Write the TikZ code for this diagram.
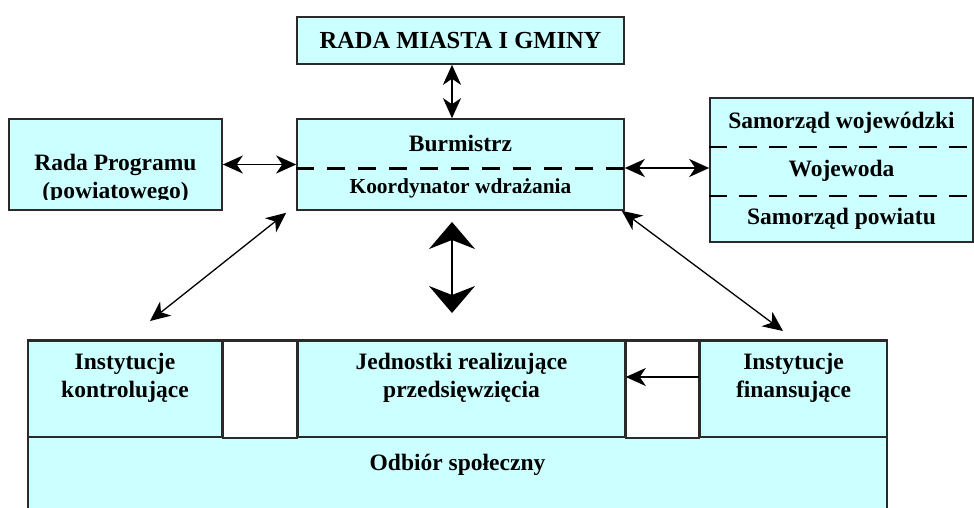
\documentclass[tikz,border=0pt]{standalone}
\usepackage{fontspec}
\setmainfont{Liberation Serif}
\usetikzlibrary{arrows.meta}
\definecolor{paleblue}{HTML}{CCFFFF}
\definecolor{edgegray}{HTML}{2A2A2A}
\tikzset{
  arrhead/.tip={Stealth[length=20pt,width=18pt,inset=6pt]},
  bighead/.tip={Stealth[length=27pt,width=46pt,inset=9pt]},
  box/.style={draw=edgegray, line width=1.6pt, fill=paleblue, inner sep=0pt},
  txt/.style={font=\bfseries\fontsize{23.5}{28}\selectfont, align=center, inner sep=0pt},
  both/.style={line width=1.8pt, arrhead-arrhead},
  one/.style={line width=1.8pt, -arrhead},
  diag/.style={line width=1.3pt, arrhead-arrhead},
  bigboth/.style={line width=1.6pt, bighead-bighead},
  midline/.style={line width=3pt, dash pattern=on 18pt off 13pt},
  sepline/.style={line width=2pt, dash pattern=on 18pt off 12pt}
}
\begin{document}
\begin{tikzpicture}[x=1pt, y=-1pt]
  \useasboundingbox (0,0) rectangle (974,507);
  % upper part
  \node (rada) [box, txt, font=\bfseries\fontsize{24.5}{28}\selectfont,
        minimum width=327pt, minimum height=47pt] at (460.5,40.5) {RADA MIASTA I GMINY};
  \node (bm) [box, minimum width=327pt, minimum height=91pt] at (460.5,164.5) {};
  \node (burm) [txt] at (460.5,143) {Burmistrz};
  \node (koord) [txt, font=\bfseries\fontsize{21.4}{26}\selectfont] at (460.5,188) {Koordynator wdrażania};
  \node (rp) [box, minimum width=213pt, minimum height=91pt] at (115.5,164.5) {};
  \begin{scope}
    \clip (9,119) rectangle (222,199);
    \node (rpt) [txt] at (115.5,179) {Rada Programu\\(powiatowego)};
  \end{scope}
  \node (sam) [box, minimum width=263pt, minimum height=144pt] at (841.5,170) {};
  \node (samw) [txt] at (841.5,123) {Samorząd wojewódzki};
  \node (woj) [txt] at (841.5,171) {Wojewoda};
  \node (samp) [txt] at (841.5,219) {Samorząd powiatu};
  \coordinate (dl) at (0,168);
  \draw[midline] (bm.west |- dl) -- (bm.east |- dl);
  \draw[sepline] (sam.west |- 0,147) -- (sam.east |- 0,147)
                 (sam.west |- 0,196) -- (sam.east |- 0,196);
  % lower part
  \node (odb) [box, minimum width=859pt, minimum height=103pt] at (457.5,488.5) {};
  \node (kon) [box, minimum width=194pt, minimum height=96pt] at (125,389) {};
  \node (jed) [box, minimum width=327pt, minimum height=96pt] at (461.5,389) {};
  \node (fin) [box, minimum width=187pt, minimum height=96pt] at (793.5,389) {};
  \draw[box, fill=white] (kon.north east) rectangle (jed.south west)
                         (jed.north east) rectangle (fin.south west);
  \draw[draw=edgegray, line width=2.6pt] (kon.north west) -- (fin.north east);
  \node (kont) [txt] at (125,378) {Instytucje\\kontrolujące};
  \node (jedt) [txt] at (461.5,378) {Jednostki realizujące\\przedsięwzięcia};
  \node (fint) [txt] at (793.5,378) {Instytucje\\finansujące};
  \node (odbt) [txt] at (457.5,465) {Odbiór społeczny};
  % connectors
  \coordinate (axis) at (452,0);
  \coordinate (ctop) at (452,222);
  \coordinate (cbot) at (452,313);
  \coordinate (kl) at (150,321);
  \coordinate (fl) at (783,331);
  \coordinate (fa) at (0,377);
  \draw[both] (rada.south -| axis) -- (bm.north -| axis);
  \draw[both] (rp.east) -- (bm.west);
  \draw[both] (bm.east |- dl) -- (sam.west |- dl);
  \draw[diag] ([xshift=-10pt, yshift=-2pt]bm.south west) -- (kl);
  \draw[diag] ([xshift=-3pt]bm.south east) -- (fl);
  \draw[bigboth] (ctop) -- (cbot);
  \draw[one] (fin.west |- fa) -- (jed.east |- fa);
\end{tikzpicture}
\end{document}
